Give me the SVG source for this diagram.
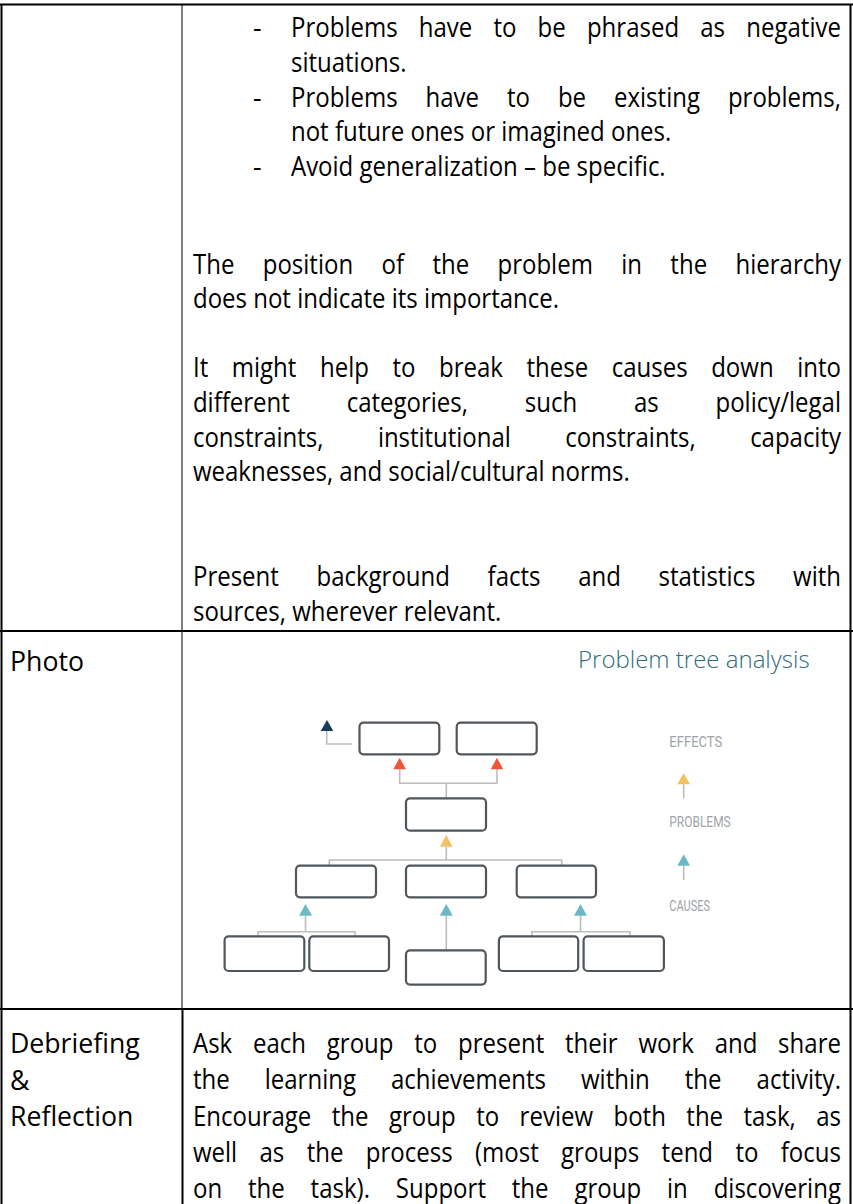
<svg xmlns="http://www.w3.org/2000/svg" width="853" height="1204" viewBox="0 0 853 1204">
  <style>
    .body { font-family: "Open Sans", "Noto Sans", sans-serif; font-size: 26.67px; fill: #000; }
    .rule { stroke: #000; stroke-width: 2; fill: none; }
    .thin { stroke: #000; stroke-width: 1; fill: none; }
    .box { fill: #fff; stroke: #50575c; stroke-width: 2.2; }
    .link { stroke: #b9bdc0; stroke-width: 1.6; fill: none; }
    .legend { font-family: Roboto, "Liberation Sans", sans-serif; font-size: 15px; fill: #9ea3a7; }
    .title { font-family: "Open Sans", "Noto Sans", sans-serif; font-weight: 300; font-size: 24px; fill: #2f6c7d; }
    .navy { fill: #1c3a5c; }
    .red { fill: #f05538; }
    .yellow { fill: #f4c064; }
    .teal { fill: #6cb9c5; }
  </style>

  <!-- table rules -->
  <g id="table">
    <line class="rule" x1="0" y1="4.5" x2="853" y2="4.5"/>
    <line class="rule" x1="1.5" y1="4" x2="1.5" y2="1204"/>
    <line class="rule" x1="850.5" y1="4" x2="850.5" y2="1204"/>
    <line class="thin" x1="182" y1="4" x2="182" y2="1009"/>
    <line class="rule" x1="0" y1="631" x2="853" y2="631"/>
    <line class="rule" x1="0" y1="1009" x2="853" y2="1009"/>
    <line class="rule" x1="182.5" y1="1009" x2="182.5" y2="1204"/>
  </g>

  <!-- first row: bullet dashes -->
  <g id="bullets" class="body">
    <text x="253" y="37">-</text>
    <text x="253" y="107">-</text>
    <text x="253" y="176">-</text>
  </g>

  <!-- first row: guidance text, body copy set slightly condensed -->
  <g id="guidance-text" class="body" transform="scale(0.9,1)">
    <text x="323.3" y="37" word-spacing="16.5" textLength="611.1" lengthAdjust="spacing">Problems have to be phrased as negative</text>
    <text x="323.3" y="72">situations.</text>
    <text x="323.3" y="107" word-spacing="24.1" textLength="611.1" lengthAdjust="spacing">Problems have to be existing problems,</text>
    <text x="323.3" y="141">not future ones or imagined ones.</text>
    <text x="323.3" y="176">Avoid generalization – be specific.</text>
    <text x="214.4" y="274" word-spacing="24.6" textLength="720" lengthAdjust="spacing">The position of the problem in the hierarchy</text>
    <text x="214.4" y="308">does not indicate its importance.</text>
    <text x="214.4" y="377" word-spacing="19.25" textLength="720" lengthAdjust="spacing">It might help to break these causes down into</text>
    <text x="214.4" y="412" word-spacing="56.2" textLength="720" lengthAdjust="spacing">different categories, such as policy/legal</text>
    <text x="214.4" y="447" word-spacing="53.6" textLength="720" lengthAdjust="spacing">constraints, institutional constraints, capacity</text>
    <text x="214.4" y="481">weaknesses, and social/cultural norms.</text>
    <text x="214.4" y="586" word-spacing="34.9" textLength="720" lengthAdjust="spacing">Present background facts and statistics with</text>
    <text x="214.4" y="621">sources, wherever relevant.</text>
  </g>

  <!-- second row: label -->
  <g id="photo-label" class="body">
    <text x="10" y="671">Photo</text>
  </g>

  <!-- second row: problem tree figure -->
  <g id="tree-title">
    <text class="title" x="578" y="668">Problem tree analysis</text>
  </g>

  <g id="connectors">
    <path class="link" d="M326.7 731 V744 H352"/>
    <path class="link" d="M399.7 769.3 V783.3 H497 V769.3"/>
    <path class="link" d="M446.3 783.3 V798.3"/>
    <path class="link" d="M446.3 846.7 V860"/>
    <path class="link" d="M329.3 865 V860 H561.7 V865"/>
    <path class="link" d="M305.5 915.7 V931.8"/>
    <path class="link" d="M258 936.4 V931.8 H355 V936.4"/>
    <path class="link" d="M446.3 915.7 V950.4"/>
    <path class="link" d="M580.5 915.7 V931.8"/>
    <path class="link" d="M531.8 936.4 V931.8 H630 V936.4"/>
    <path class="link" d="M683.7 784.3 V798.3"/>
    <path class="link" d="M683.7 865.7 V880"/>
  </g>

  <g id="arrowheads">
    <polygon class="navy" points="320.7,731 333.3,731 327,720"/>
    <polygon class="red" points="393.3,769.3 406,769.3 399.7,757.7"/>
    <polygon class="red" points="490.7,769.3 503.3,769.3 497,757.7"/>
    <polygon class="yellow" points="440,846.7 452.7,846.7 446.3,835"/>
    <polygon class="teal" points="299,915.7 312,915.7 305.5,904"/>
    <polygon class="teal" points="439.8,915.7 452.8,915.7 446.3,904"/>
    <polygon class="teal" points="574,915.7 587,915.7 580.5,904"/>
    <polygon class="yellow" points="677.3,784.3 690,784.3 683.7,773.3"/>
    <polygon class="teal" points="677.3,865.7 690,865.7 683.7,854.3"/>
  </g>

  <g id="effect-1"><rect class="box" x="359.5" y="722.7" width="79.8" height="31.6" rx="4"/></g>
  <g id="effect-2"><rect class="box" x="456.7" y="722.7" width="80" height="31.6" rx="4"/></g>
  <g id="problem"><rect class="box" x="406" y="798.3" width="80" height="32.4" rx="4"/></g>
  <g id="cause-1"><rect class="box" x="296" y="865.7" width="80" height="31.6" rx="4"/></g>
  <g id="cause-2"><rect class="box" x="406" y="865.7" width="80" height="31.6" rx="4"/></g>
  <g id="cause-3"><rect class="box" x="516.7" y="865.7" width="79.3" height="31.6" rx="4"/></g>
  <g id="root-1"><rect class="box" x="224.6" y="936.4" width="79.7" height="34.6" rx="4"/></g>
  <g id="root-2"><rect class="box" x="309.3" y="936.4" width="79.7" height="34.6" rx="4"/></g>
  <g id="root-3"><rect class="box" x="406" y="950.4" width="79.7" height="34.2" rx="4"/></g>
  <g id="root-4"><rect class="box" x="498.9" y="936.4" width="79.3" height="34.6" rx="4"/></g>
  <g id="root-5"><rect class="box" x="583.6" y="936.4" width="80.3" height="34.6" rx="4"/></g>

  <g id="legend">
    <text class="legend" x="669.3" y="746.7" textLength="53" lengthAdjust="spacingAndGlyphs">EFFECTS</text>
    <text class="legend" x="669.3" y="827.3" textLength="61.4" lengthAdjust="spacingAndGlyphs">PROBLEMS</text>
    <text class="legend" x="669.3" y="910.7" textLength="40.7" lengthAdjust="spacingAndGlyphs">CAUSES</text>
  </g>

  <!-- third row -->
  <g id="debrief-label" class="body">
    <text x="10" y="1053">Debriefing</text>
    <text x="10" y="1089.5">&amp;</text>
    <text x="10" y="1126">Reflection</text>
  </g>
  <g id="debrief-text" class="body" transform="scale(0.9,1)">
    <text x="214.4" y="1053" word-spacing="16.1" textLength="720" lengthAdjust="spacing">Ask each group to present their work and share</text>
    <text x="214.4" y="1089.5" word-spacing="32" textLength="720" lengthAdjust="spacing">the learning achievements within the activity.</text>
    <text x="214.4" y="1126" word-spacing="15.8" textLength="720" lengthAdjust="spacing">Encourage the group to review both the task, as</text>
    <text x="214.4" y="1162.5" word-spacing="17.9" textLength="720" lengthAdjust="spacing">well as the process (most groups tend to focus</text>
    <text x="214.4" y="1198" word-spacing="21.8" textLength="720" lengthAdjust="spacing">on the task). Support the group in discovering</text>
  </g>
</svg>
